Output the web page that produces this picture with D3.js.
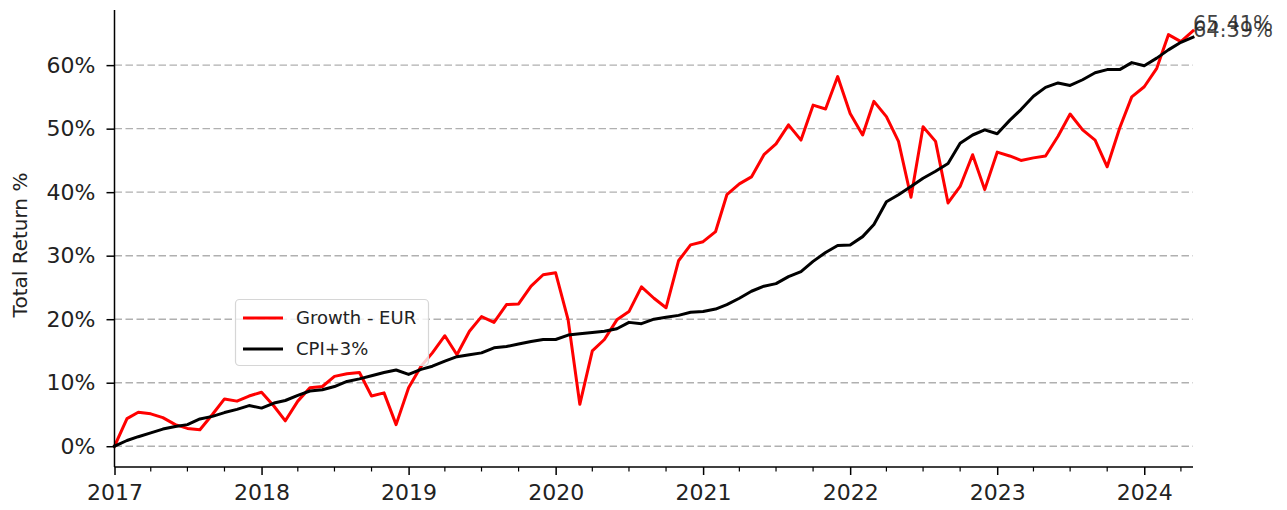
<!DOCTYPE html>
<html>
<head>
<meta charset="utf-8">
<script src="https://cdn.jsdelivr.net/npm/d3@7"></script>
<style>
  html, body { margin: 0; padding: 0; background: #fff; }
  svg { display: block; font-family: "DejaVu Sans", sans-serif; }
</style>
</head>
<body>
<svg id="chart" width="1287" height="510"></svg>
<script>
// ---- data ----
const startYear = 2017, startMonth = 0; // Jan 2017, monthly
const seriesNames = ["Growth - EUR", "CPI+3%"];
const seriesColors = ["#ff0000", "#000000"];
const growthEUR = [
  0.0, 4.35, 5.35, 5.1, 4.5, 3.4, 2.8, 2.6, 5.0, 7.45, 7.1, 7.9,
  8.5, 6.3, 4.0, 7.1, 9.2, 9.4, 11.0, 11.4, 11.6, 7.9, 8.4, 3.4,
  9.2, 12.6, 14.7, 17.4, 14.4, 18.1, 20.4, 19.5, 22.3, 22.4, 25.2, 27.0,
  27.3, 19.9, 6.6, 15.0, 16.8, 19.9, 21.2, 25.1, 23.3, 21.8, 29.2, 31.7,
  32.2, 33.8, 39.6, 41.3, 42.4, 45.9, 47.6, 50.6, 48.2, 53.7, 53.1, 58.2,
  52.4, 49.0, 54.3, 51.9, 48.0, 39.2, 50.3, 48.0, 38.3, 40.9, 45.9, 40.4,
  46.3, 45.7, 45.0, 45.4, 45.7, 48.8, 52.3, 49.8, 48.2, 44.0, 50.1, 55.0,
  56.6, 59.5, 64.8, 63.7, 65.41
];
const cpiPlus3 = [
  0.0, 0.9, 1.5, 2.1, 2.7, 3.1, 3.4, 4.3, 4.7, 5.3, 5.8, 6.4,
  6.0, 6.8, 7.2, 8.0, 8.7, 8.9, 9.4, 10.2, 10.6, 11.1, 11.6, 12.0,
  11.3, 12.1, 12.6, 13.4, 14.1, 14.4, 14.7, 15.5, 15.7, 16.1, 16.5, 16.8,
  16.8, 17.5, 17.7, 17.9, 18.1, 18.5, 19.5, 19.3, 20.0, 20.3, 20.6, 21.1,
  21.2, 21.6, 22.3, 23.3, 24.4, 25.2, 25.6, 26.7, 27.5, 29.1, 30.5, 31.6,
  31.7, 33.0, 34.9, 38.5, 39.6, 40.9, 42.2, 43.3, 44.5, 47.7, 49.0, 49.8,
  49.2, 51.3, 53.0, 55.1, 56.5, 57.2, 56.8, 57.7, 58.8, 59.3, 59.3, 60.4,
  59.9, 61.1, 62.4, 63.6, 64.39
];
const yTicks = [0, 10, 20, 30, 40, 50, 60];
const xTickYears = [2017, 2018, 2019, 2020, 2021, 2022, 2023, 2024];
const yLabel = "Total Return %";

// ---- build ----
const dates = growthEUR.map((_, i) => new Date(startYear, startMonth + i, 1));
const series = [growthEUR, cpiPlus3];

const svg = d3.select("#chart");
const pL = 114.5, pR = 1193, pT = 10, pB = 467;

const x = d3.scaleTime().domain([dates[0], dates[dates.length - 1]]).range([pL, pR]);
const allVals = growthEUR.concat(cpiPlus3);
const yMin = d3.min(allVals), yMax = d3.max(allVals);
const yPad = (yMax - yMin) * 0.05;
const y = d3.scaleLinear().domain([yMin - yPad, yMax + yPad]).range([pB, pT]);

// grid
svg.append("g").selectAll("line").data(yTicks).join("line")
  .attr("x1", pL).attr("x2", pR)
  .attr("y1", d => y(d)).attr("y2", d => y(d))
  .attr("stroke", "#b0b0b0").attr("stroke-width", 1.4)
  .attr("stroke-dasharray", "7.5,3.5");

// lines
const line = d3.line().x((d, i) => x(dates[i])).y(d => y(d));
series.forEach((s, k) => {
  svg.append("path").datum(s)
    .attr("d", line)
    .attr("fill", "none")
    .attr("stroke", seriesColors[k])
    .attr("stroke-width", 3)
    .attr("stroke-linejoin", "round")
    .attr("stroke-linecap", "square");
});

// axes
const yAxis = d3.axisLeft(y).tickValues(yTicks).tickFormat(d => d + "%")
  .tickSize(8).tickPadding(11);
const gy = svg.append("g").attr("transform", `translate(${pL},0)`).call(yAxis);
gy.select(".domain").attr("d", `M0,${pT}V${pB}`).attr("stroke-width", 1.5);
gy.selectAll(".tick line").attr("stroke-width", 1.5);
gy.selectAll("text").attr("font-size", 22).attr("fill", "#222")
  .attr("font-family", "DejaVu Sans");

const xMajor = xTickYears.map(yy => new Date(yy, 0, 1));
const xAxis = d3.axisBottom(x).tickValues(xMajor).tickFormat(d3.timeFormat("%Y"))
  .tickSize(8).tickPadding(9);
const gx = svg.append("g").attr("transform", `translate(0,${pB})`).call(xAxis);
gx.select(".domain").attr("d", `M${pL},0H${pR}`).attr("stroke-width", 1.5);
gx.selectAll(".tick line").attr("stroke-width", 1.5);
gx.selectAll("text").attr("font-size", 22).attr("fill", "#222")
  .attr("font-family", "DejaVu Sans");

// minor quarterly ticks
const minor = d3.timeMonth.every(3).range(dates[0], dates[dates.length - 1])
  .filter(d => d.getMonth() !== 0);
svg.append("g").selectAll("line").data(minor).join("line")
  .attr("x1", d => x(d)).attr("x2", d => x(d))
  .attr("y1", pB).attr("y2", pB + 4.5)
  .attr("stroke", "#000").attr("stroke-width", 1.2);

// y label
svg.append("text")
  .attr("transform", `translate(27,245) rotate(-90)`)
  .attr("text-anchor", "middle")
  .attr("font-size", 20).attr("fill", "#222")
  .text(yLabel);

// end labels
series.forEach((s, k) => {
  const v = s[s.length - 1];
  svg.append("text")
    .attr("x", x(dates[dates.length - 1]))
    .attr("y", y(v))
    .attr("font-size", 21).attr("fill", "#222").attr("fill-opacity", 0.85)
    .text(v.toFixed(2) + "%");
});

// legend
const lg = svg.append("g");
lg.append("rect").attr("x", 235.5).attr("y", 299.5).attr("width", 193).attr("height", 66)
  .attr("rx", 4).attr("fill", "#fff").attr("fill-opacity", 0.8)
  .attr("stroke", "#d6d6d6").attr("stroke-width", 1.2);
seriesNames.forEach((n, k) => {
  const cy = 318 + k * 31;
  lg.append("line").attr("x1", 243).attr("x2", 283).attr("y1", cy).attr("y2", cy)
    .attr("stroke", seriesColors[k]).attr("stroke-width", 3);
  lg.append("text").attr("x", 296).attr("y", cy).attr("dy", "0.36em")
    .attr("font-size", 18).attr("fill", "#222").text(n);
});
</script>
</body>
</html>
